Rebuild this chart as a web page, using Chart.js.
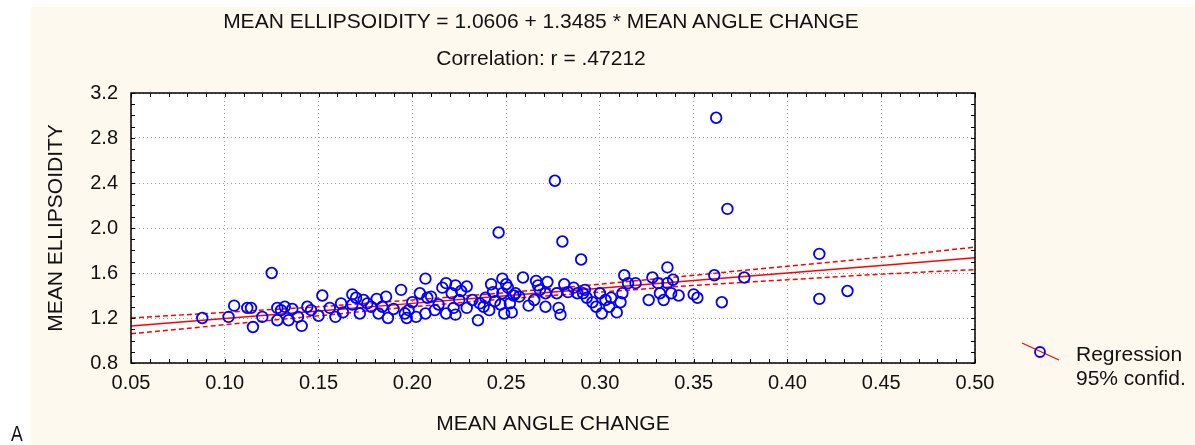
<!DOCTYPE html>
<html lang="en">
<head>
    <meta charset="UTF-8">
    <title>Mean Ellipsoidity vs Mean Angle Change</title>
    <style>
        body { margin: 0; background: #ffffff; font-family: "Liberation Sans", Arial, sans-serif; }
        #wrap { position: relative; width: 1195px; height: 445px; overflow: hidden; }
        .cream { position: absolute; left: 31px; top: 7px; right: 0; bottom: 0; background: #fdf9ef; }
        canvas { position: absolute; left: 0; top: 0; }
        .txt { position: absolute; color: #111; font-size: 21px; white-space: nowrap; line-height: 1; }
        #title1 { left: 0; width: 1082px; text-align: center; top: 10px; }
        #title2 { left: 0; width: 1082px; text-align: center; top: 47px; }
        #legend { position: absolute; left: 1020px; top: 340px; }
        #legend svg { position: absolute; left: 0; top: 0; }
        #legend .lbl { left: 56px; font-size: 21px; }
        #letterA { left: 11px; top: 423px; font-size: 22px; transform: scaleX(0.8); transform-origin: left; }
    </style>
</head>
<body>
<div id="wrap">
    <div class="cream"></div>
    <canvas id="chart" width="1195" height="445"></canvas>
    <div class="txt" id="title1">MEAN ELLIPSOIDITY = 1.0606 + 1.3485 * MEAN ANGLE CHANGE</div>
    <div class="txt" id="title2">Correlation: r = .47212</div>
    <div id="legend">
        <svg width="44" height="24">
            <line x1="2" y1="3" x2="39" y2="20" stroke="#ff0000" stroke-width="1.2"/>
            <circle cx="20" cy="12" r="5" fill="none" stroke="#0000ff" stroke-width="1.8"/>
        </svg>
        <div class="txt lbl" style="top:3px">Regression</div>
        <div class="txt lbl" style="top:27px">95% confid.</div>
    </div>
    <div class="txt" id="letterA">A</div>
</div>

<script src="https://cdn.jsdelivr.net/npm/chart.js"></script>
<script>
    const angleChange = [
        0.088, 0.102, 0.105, 0.112, 0.114, 0.115, 0.120, 0.125, 0.128, 0.128,
        0.130, 0.132, 0.134, 0.136, 0.139, 0.141, 0.144, 0.146, 0.150, 0.152,
        0.156, 0.159, 0.162, 0.163, 0.168, 0.168, 0.170, 0.172, 0.174, 0.176,
        0.181, 0.182, 0.184, 0.186, 0.187, 0.190, 0.194, 0.196, 0.197, 0.200,
        0.202, 0.204, 0.207, 0.207, 0.208, 0.210, 0.212, 0.216, 0.218, 0.218,
        0.221, 0.222, 0.223, 0.223, 0.225, 0.229, 0.229, 0.232, 0.235, 0.236,
        0.239, 0.241, 0.242, 0.243, 0.246, 0.247, 0.248, 0.248, 0.249, 0.250,
        0.251, 0.252, 0.253, 0.255, 0.257, 0.259, 0.265, 0.266, 0.267, 0.268,
        0.271, 0.271, 0.272, 0.276, 0.277, 0.278, 0.279, 0.280, 0.281, 0.283,
        0.286, 0.288, 0.290, 0.291, 0.293, 0.296, 0.298, 0.300, 0.301, 0.303,
        0.305, 0.309, 0.311, 0.312, 0.313, 0.315, 0.319, 0.326, 0.328, 0.331,
        0.332, 0.334, 0.336, 0.336, 0.338, 0.339, 0.342, 0.350, 0.352, 0.361,
        0.362, 0.365, 0.368, 0.377, 0.417, 0.417, 0.432,
        0.198, 0.214, 0.226, 0.238, 0.244, 0.254, 0.262, 0.292, 0.306, 0.178
    ];
    const ellipsoidity = [
        1.20, 1.21, 1.31, 1.29, 1.29, 1.12, 1.21, 1.60, 1.29, 1.18,
        1.27, 1.30, 1.18, 1.28, 1.21, 1.13, 1.30, 1.27, 1.22, 1.40,
        1.29, 1.21, 1.33, 1.25, 1.41, 1.32, 1.38, 1.24, 1.36, 1.33,
        1.37, 1.24, 1.30, 1.39, 1.20, 1.28, 1.45, 1.24, 1.20, 1.34,
        1.21, 1.42, 1.55, 1.24, 1.38, 1.39, 1.27, 1.47, 1.51, 1.24,
        1.42, 1.29, 1.23, 1.49, 1.36, 1.48, 1.29, 1.36, 1.18, 1.33,
        1.38, 1.27, 1.50, 1.43, 1.96, 1.32, 1.55, 1.42, 1.24, 1.50,
        1.47, 1.33, 1.25, 1.42, 1.39, 1.56, 1.36, 1.53, 1.49, 1.45,
        1.42, 1.30, 1.52, 2.42, 1.42, 1.29, 1.23, 1.88, 1.50, 1.43,
        1.47, 1.42, 1.72, 1.42, 1.38, 1.34, 1.30, 1.42, 1.24, 1.36,
        1.30, 1.25, 1.34, 1.42, 1.58, 1.51, 1.51, 1.36, 1.56, 1.51,
        1.42, 1.36, 1.65, 1.51, 1.42, 1.54, 1.40, 1.41, 1.38, 1.58,
        2.98, 1.34, 2.17, 1.56, 1.77, 1.37, 1.44,
        1.27, 1.32, 1.44, 1.30, 1.35, 1.40, 1.31, 1.45, 1.38, 1.30
    ];

    // Fitted line and 95% band, read at these x positions
    const fitX = [0.05, 0.10, 0.15, 0.20, 0.25, 0.30, 0.35, 0.40, 0.45, 0.50];
    const fitY = [1.128, 1.195, 1.263, 1.330, 1.398, 1.465, 1.533, 1.600, 1.667, 1.735];
    const upperY = [1.20, 1.25, 1.30, 1.36, 1.425, 1.50, 1.58, 1.66, 1.74, 1.83];
    const lowerY = [1.06, 1.14, 1.22, 1.30, 1.37, 1.43, 1.49, 1.54, 1.59, 1.63];

    const xMin = 0.05, xMax = 0.50, xStep = 0.05, xMinor = 0.01;
    const yMin = 0.8, yMax = 3.2, yStep = 0.4, yMinor = 0.1;

    const FONT = '"Liberation Sans", Arial, sans-serif';

    const toXY = (xs, ys) => xs.map((x, i) => ({ x: x, y: ys[i] }));

    // white plot area, frame and inward minor ticks
    const framePlugin = {
        id: 'frame',
        beforeDraw(chart) {
            const a = chart.chartArea;
            const ctx = chart.ctx;
            ctx.save();
            ctx.fillStyle = '#ffffff';
            ctx.fillRect(a.left, a.top, a.right - a.left, a.bottom - a.top);
            ctx.restore();
        },
        afterDraw(chart) {
            const a = chart.chartArea;
            const ctx = chart.ctx;
            const sx = chart.scales.x, sy = chart.scales.y;
            ctx.save();
            ctx.strokeStyle = '#000000';
            ctx.lineWidth = 1;
            ctx.beginPath();
            for (let v = xMin; v <= xMax + 1e-9; v += xMinor) {
                const px = Math.round(sx.getPixelForValue(v)) + 0.5;
                ctx.moveTo(px, a.bottom); ctx.lineTo(px, a.bottom - 4);
                ctx.moveTo(px, a.top); ctx.lineTo(px, a.top + 4);
            }
            for (let v = yMin; v <= yMax + 1e-9; v += yMinor) {
                const py = Math.round(sy.getPixelForValue(v)) + 0.5;
                ctx.moveTo(a.left, py); ctx.lineTo(a.left + 4, py);
                ctx.moveTo(a.right, py); ctx.lineTo(a.right - 4, py);
            }
            ctx.stroke();
            ctx.lineWidth = 1.5;
            ctx.strokeRect(a.left, a.top, a.right - a.left, a.bottom - a.top);
            ctx.restore();
        }
    };

    new Chart(document.getElementById('chart').getContext('2d'), {
        type: 'scatter',
        data: {
            datasets: [
                {
                    label: 'Regression',
                    data: toXY(fitX, fitY),
                    showLine: true,
                    borderColor: '#ff0000',
                    borderWidth: 1.5,
                    pointRadius: 0,
                    order: 2
                },
                {
                    label: 'upper',
                    data: toXY(fitX, upperY),
                    showLine: true,
                    borderColor: '#ff0000',
                    borderWidth: 1.5,
                    borderDash: [5, 3],
                    pointRadius: 0,
                    order: 2
                },
                {
                    label: 'lower',
                    data: toXY(fitX, lowerY),
                    showLine: true,
                    borderColor: '#ff0000',
                    borderWidth: 1.5,
                    borderDash: [5, 3],
                    pointRadius: 0,
                    order: 2
                },
                {
                    label: 'points',
                    data: toXY(angleChange, ellipsoidity),
                    borderColor: '#0000ff',
                    backgroundColor: 'rgba(0,0,0,0)',
                    borderWidth: 1.8,
                    pointRadius: 5.3,
                    order: 1
                }
            ]
        },
        options: {
            responsive: false,
            animation: false,
            layout: { padding: { top: 93, right: 220, bottom: 0, left: 0 } },
            plugins: { legend: { display: false }, tooltip: { enabled: false } },
            scales: {
                x: {
                    type: 'linear',
                    min: xMin, max: xMax,
                    afterFit(scale) { scale.height = 82; },
                    ticks: {
                        stepSize: xStep,
                        color: '#111',
                        padding: 8,
                        maxRotation: 0,
                        font: { family: FONT, size: 20 },
                        callback: v => Number(v).toFixed(2)
                    },
                    grid: { color: '#a0a0a0', lineWidth: 1, drawTicks: false },
                    border: { display: false, dash: [1, 3] },
                    title: {
                        display: true,
                        text: 'MEAN ANGLE CHANGE',
                        color: '#111',
                        font: { family: FONT, size: 21 },
                        padding: { top: 0, bottom: 8 }
                    }
                },
                y: {
                    type: 'linear',
                    min: yMin, max: yMax,
                    afterFit(scale) { scale.width = 131; },
                    ticks: {
                        stepSize: yStep,
                        color: '#111',
                        padding: 13,
                        font: { family: FONT, size: 20 },
                        callback: v => Number(v).toFixed(1)
                    },
                    grid: { color: '#a0a0a0', lineWidth: 1, drawTicks: false },
                    border: { display: false, dash: [1, 3] },
                    title: {
                        display: true,
                        text: 'MEAN ELLIPSOIDITY',
                        color: '#111',
                        font: { family: FONT, size: 21 },
                        padding: { top: 44, bottom: 0 }
                    }
                }
            }
        },
        plugins: [framePlugin]
    });
</script>
</body>
</html>
